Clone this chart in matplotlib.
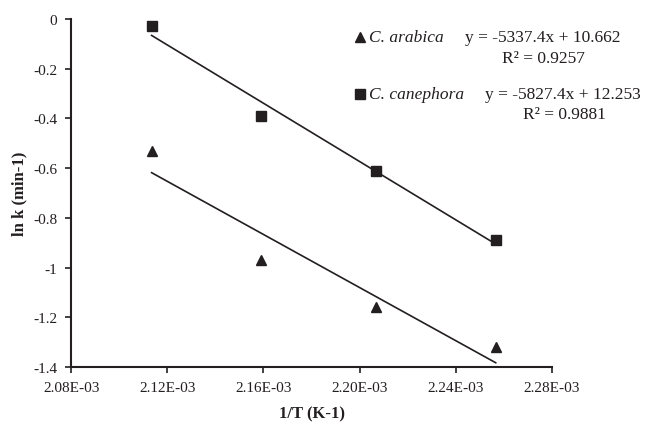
import numpy as np
import matplotlib
matplotlib.use('Agg')
import matplotlib.pyplot as plt
from matplotlib.ticker import FuncFormatter

# Data: 1/T for 200, 190, 180, 170 degC and ln k values
inv_T = [1 / 473.15, 1 / 463.15, 1 / 453.15, 1 / 443.15]
ln_k_arabica = [-0.53, -0.97, -1.16, -1.32]
ln_k_canephora = [-0.03, -0.39, -0.61, -0.89]

eq_arabica = 'y = -5337.4x + 10.662'
r2_arabica = 'R² = 0.9257'
eq_canephora = 'y = -5827.4x + 12.253'
r2_canephora = 'R² = 0.9881'

x_ticks = [2.08e-3, 2.12e-3, 2.16e-3, 2.20e-3, 2.24e-3, 2.28e-3]
y_ticks = [0, -0.2, -0.4, -0.6, -0.8, -1, -1.2, -1.4]

ink = '#231f20'
plt.rcParams['font.family'] = ['Liberation Serif', 'DejaVu Serif']

fig = plt.figure(figsize=(6.58, 4.31), dpi=100)
ax = fig.add_axes([0.108, 0.146, 0.731, 0.808])

x = np.array(inv_T)
for y, marker in [(ln_k_arabica, '^'), (ln_k_canephora, 's')]:
    y = np.array(y)
    slope, icept = np.polyfit(x, y, 1)
    ax.plot(x, y, linestyle='none', marker=marker, color=ink, markersize=7.5)
    ax.plot([x[0], x[-1]], [slope * x[0] + icept, slope * x[-1] + icept],
            color=ink, linewidth=1.2)

ax.set_xlim(2.08e-3, 2.28e-3)
ax.set_ylim(-1.4, 0)
ax.set_xticks(x_ticks)
ax.set_yticks(y_ticks)
ax.xaxis.set_major_formatter(FuncFormatter(lambda v, p: '%.2E' % v))
ax.yaxis.set_major_formatter(FuncFormatter(lambda v, p: '%g' % v))
ax.tick_params(labelsize=11, length=4, width=1.2, color=ink, labelcolor=ink, pad=6)
for side in ['top', 'right']:
    ax.spines[side].set_visible(False)
for side in ['left', 'bottom']:
    ax.spines[side].set_color(ink)
    ax.spines[side].set_linewidth(1.5)

ax.set_xlabel('1/T (K-1)', fontsize=12, fontweight='bold', color=ink, labelpad=8)
ax.set_ylabel('ln k (min-1)', fontsize=12, fontweight='bold', color=ink, labelpad=4)

# legend with equations (figure pixel coords)
def px(xp, yp):
    return xp / 658, 1 - yp / 431

legend_rows = [('^', 'C. arabica', eq_arabica, r2_arabica, 38, 465, 59, 502),
               ('s', 'C. canephora', eq_canephora, r2_canephora, 95, 485, 115, 523)]
for marker, name, eq, r2, yrow, xeq, yr2, xr2 in legend_rows:
    mx, my = px(360, yrow)
    fig.add_artist(plt.Line2D([mx], [my], marker=marker, color=ink, markersize=7.5,
                              linestyle='none', transform=fig.transFigure))
    tx, ty = px(369, yrow)
    fig.text(tx, ty, name, style='italic', fontsize=12.5, color=ink, va='center')
    ex, ey = px(xeq, yrow)
    fig.text(ex, ey, eq, fontsize=12.5, color=ink, va='center')
    rx, ry = px(xr2, yr2)
    fig.text(rx, ry, r2, fontsize=12.5, color=ink, va='center')

fig.savefig('out.png', dpi=100)
